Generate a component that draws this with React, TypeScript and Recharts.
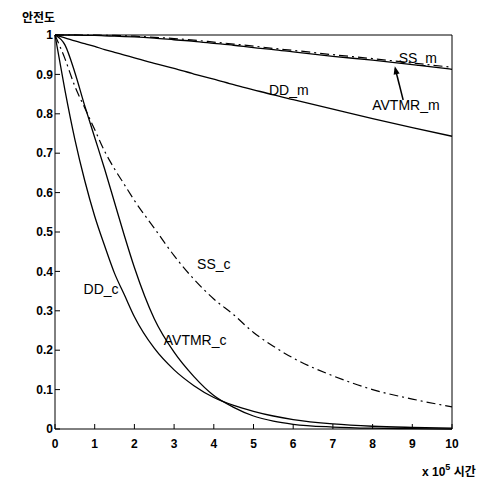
import { LineChart, Line, XAxis, YAxis, ReferenceDot, ReferenceLine } from 'recharts'

// time in units of 10^5 hours
const HOURS = [0, 0.25, 0.5, 0.75, 1, 1.25, 1.5, 1.75, 2, 2.5, 3, 3.5, 4, 4.5, 5, 5.5, 6, 7, 8, 9, 10]

const DD_M = [1, 0.993, 0.985, 0.978, 0.971, 0.963, 0.956, 0.949, 0.942, 0.928, 0.915, 0.901, 0.888, 0.874, 0.861, 0.848, 0.836, 0.812, 0.788, 0.765, 0.743]
const AVTMR_M = [1, 1, 1, 0.999, 0.999, 0.998, 0.997, 0.996, 0.995, 0.992, 0.988, 0.984, 0.979, 0.974, 0.968, 0.963, 0.957, 0.946, 0.936, 0.925, 0.913]
const SS_M = [1, 1, 1, 1, 1, 0.999, 0.999, 0.998, 0.997, 0.994, 0.991, 0.987, 0.982, 0.977, 0.972, 0.966, 0.961, 0.95, 0.94, 0.929, 0.918]
const DD_C = [1, 0.86, 0.735, 0.63, 0.54, 0.465, 0.395, 0.34, 0.285, 0.205, 0.15, 0.11, 0.08, 0.06, 0.045, 0.033, 0.024, 0.013, 0.007, 0.004, 0.002]
const AVTMR_C = [1, 0.975, 0.905, 0.82, 0.74, 0.66, 0.575, 0.49, 0.41, 0.28, 0.195, 0.133, 0.085, 0.055, 0.033, 0.02, 0.012, 0.005, 0.002, 0.001, 0]
const SS_C = [1, 0.94, 0.87, 0.815, 0.76, 0.705, 0.66, 0.62, 0.58, 0.51, 0.44, 0.38, 0.33, 0.29, 0.245, 0.21, 0.18, 0.135, 0.1, 0.076, 0.056]

const X_TICKS = [0, 1, 2, 3, 4, 5, 6, 7, 8, 9, 10]
const Y_TICKS = [0, 0.1, 0.2, 0.3, 0.4, 0.5, 0.6, 0.7, 0.8, 0.9, 1]

const CURVE_TAGS = [
  { name: 'SS_m', x: 9.14, y: 0.942 },
  { name: 'AVTMR_m', x: 8.84, y: 0.822 },
  { name: 'DD_m', x: 5.89, y: 0.86 },
  { name: 'SS_c', x: 4.0, y: 0.419 },
  { name: 'DD_c', x: 1.16, y: 0.355 },
  { name: 'AVTMR_c', x: 3.53, y: 0.226 }
]

const data = HOURS.map((h, i) => ({
  h,
  ddM: DD_M[i],
  avtmrM: AVTMR_M[i],
  ssM: SS_M[i],
  ddC: DD_C[i],
  avtmrC: AVTMR_C[i],
  ssC: SS_C[i]
}))

const FONT = '"Liberation Sans", Arial, sans-serif'
const tickFont = { fontSize: 12, fontWeight: 700, fill: '#000', fontFamily: FONT }

function ArrowHead(props: { cx?: number; cy?: number }) {
  const { cx = 0, cy = 0 } = props
  const bx = cx + 1.8
  const by = cy + 8
  return <polygon points={`${cx},${cy} ${bx + 3},${by - 0.7} ${bx - 3},${by + 0.7}`} fill="#000" />
}

export default function App() {
  return (
    <div style={{ position: 'absolute', left: 0, top: 0, width: 491, height: 482, background: '#fff' }}>
      <LineChart width={491} height={482} data={data} margin={{ top: 34, right: 38, bottom: 23, left: 15 }}>
        <XAxis
          xAxisId="b"
          dataKey="h"
          type="number"
          domain={[0, 10]}
          ticks={X_TICKS}
          height={30}
          tickSize={-5}
          tickMargin={15}
          stroke="#000"
          tick={tickFont}
        />
        <XAxis
          xAxisId="t"
          orientation="top"
          dataKey="h"
          type="number"
          domain={[0, 10]}
          ticks={X_TICKS}
          height={1}
          tickSize={-5}
          tick={false}
          stroke="#000"
        />
        <YAxis
          yAxisId="l"
          type="number"
          domain={[0, 1]}
          ticks={Y_TICKS}
          width={40}
          tickSize={-5}
          tickMargin={7}
          stroke="#000"
          tick={tickFont}
        />
        <YAxis
          yAxisId="r"
          orientation="right"
          type="number"
          domain={[0, 1]}
          ticks={Y_TICKS}
          width={1}
          tickSize={-5}
          tick={false}
          stroke="#000"
        />
        <Line xAxisId="b" yAxisId="l" type="monotone" dataKey="ddM" stroke="#000" strokeWidth={1.3} dot={false} isAnimationActive={false} />
        <Line xAxisId="b" yAxisId="l" type="monotone" dataKey="avtmrM" stroke="#000" strokeWidth={1.3} dot={false} isAnimationActive={false} />
        <Line xAxisId="b" yAxisId="l" type="monotone" dataKey="ssM" stroke="#000" strokeWidth={1.2} strokeDasharray="9 4 2 4" dot={false} isAnimationActive={false} />
        <Line xAxisId="b" yAxisId="l" type="monotone" dataKey="ddC" stroke="#000" strokeWidth={1.3} dot={false} isAnimationActive={false} />
        <Line xAxisId="b" yAxisId="l" type="monotone" dataKey="avtmrC" stroke="#000" strokeWidth={1.3} dot={false} isAnimationActive={false} />
        <Line xAxisId="b" yAxisId="l" type="monotone" dataKey="ssC" stroke="#000" strokeWidth={1.2} strokeDasharray="9 4 2 4" dot={false} isAnimationActive={false} />
        <ReferenceLine
          xAxisId="b"
          yAxisId="l"
          segment={[{ x: 8.77, y: 0.835 }, { x: 8.57, y: 0.915 }]}
          stroke="#000"
          strokeWidth={1.5}
        />
        <ReferenceDot xAxisId="b" yAxisId="l" x={8.56} y={0.921} r={3} shape={<ArrowHead />} />
        {CURVE_TAGS.map((t) => (
          <ReferenceDot
            key={t.name}
            xAxisId="b"
            yAxisId="l"
            x={t.x}
            y={t.y}
            r={1}
            fill="none"
            stroke="none"
            label={{ value: t.name, position: 'center', fontSize: 14, fill: '#000', fontFamily: FONT }}
          />
        ))}
      </LineChart>
      <div style={{ position: 'absolute', left: 22, top: 8, fontSize: 12, fontWeight: 700, fontFamily: '"Noto Sans CJK KR", sans-serif', color: '#000' }}>
        안전도
      </div>
      <div style={{ position: 'absolute', left: 422, top: 462, fontSize: 12, fontWeight: 700, fontFamily: FONT, color: '#000', whiteSpace: 'nowrap' }}>
        x 10<span style={{ fontSize: 9, position: 'relative', top: -6 }}>5</span>{' '}
        <span style={{ fontFamily: '"Noto Sans CJK KR", sans-serif' }}>시간</span>
      </div>
    </div>
  )
}
